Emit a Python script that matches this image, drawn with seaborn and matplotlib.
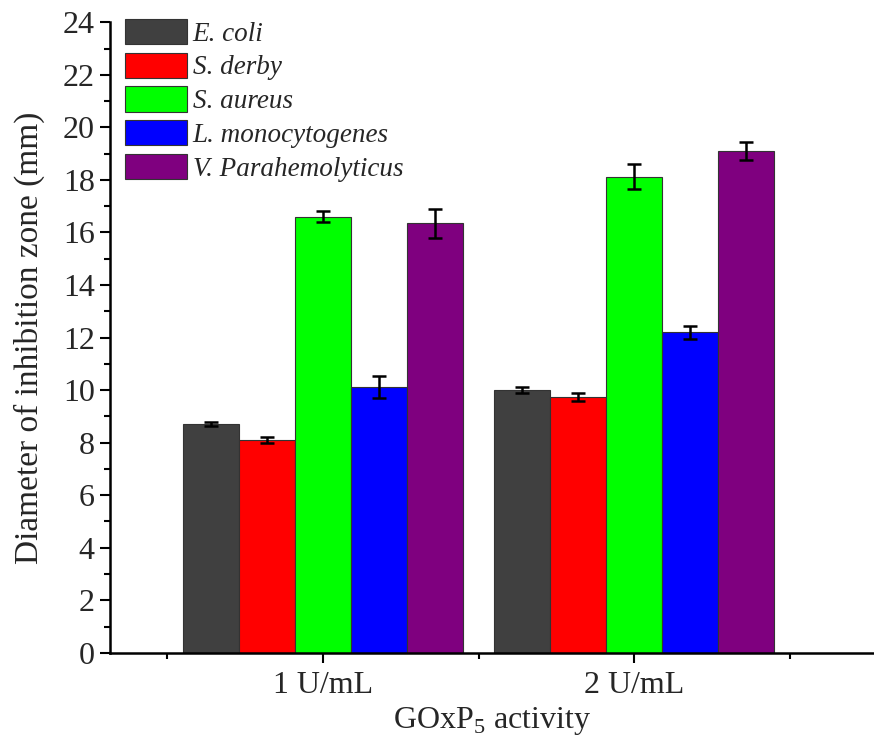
import matplotlib
matplotlib.use("Agg")
import matplotlib.pyplot as plt
import seaborn as sns
import pandas as pd
import numpy as np
from matplotlib.ticker import MultipleLocator, FixedLocator

categories = ["1 U/mL", "2 U/mL"]
species = ["E. coli", "S. derby", "S. aureus", "L. monocytogenes", "V. Parahemolyticus"]
colors = ["#404040", "#ff0000", "#00ff00", "#0000ff", "#7f007f"]
means = {
    "E. coli": [8.70, 10.00],
    "S. derby": [8.10, 9.75],
    "S. aureus": [16.60, 18.12],
    "L. monocytogenes": [10.10, 12.20],
    "V. Parahemolyticus": [16.35, 19.10],
}
errs = {
    "E. coli": [0.08, 0.12],
    "S. derby": [0.12, 0.15],
    "S. aureus": [0.22, 0.48],
    "L. monocytogenes": [0.42, 0.25],
    "V. Parahemolyticus": [0.55, 0.35],
}

rows = []
for sp in species:
    for c, m in zip(categories, means[sp]):
        rows.append({"activity": c, "species": sp, "value": m})
df = pd.DataFrame(rows)

sns.set_style("ticks")
plt.rcParams["font.family"] = ["Liberation Serif", "DejaVu Serif"]
plt.rcParams["mathtext.fontset"] = "custom"
plt.rcParams["mathtext.rm"] = "Liberation Serif"

fig = plt.figure(figsize=(8.74, 7.41), dpi=100)
ax = fig.add_axes([0.126, 0.119, 0.874, 0.851])

sns.barplot(data=df, x="activity", y="value", hue="species", order=categories,
            hue_order=species, palette=colors, width=0.9, errorbar=None,
            edgecolor="#333333", linewidth=0.8, saturation=1, ax=ax)

for sp, cont in zip(species, ax.containers):
    xs = [b.get_x() + b.get_width() / 2 for b in cont]
    hs = [b.get_height() for b in cont]
    ax.errorbar(xs, hs, yerr=errs[sp], fmt="none", ecolor="black",
                elinewidth=1.8, capsize=5, capthick=1.8, zorder=5)

ax.set_xlim(-0.683, 1.77)
ax.set_ylim(0, 24)
ax.yaxis.set_major_locator(MultipleLocator(2))
ax.yaxis.set_minor_locator(MultipleLocator(1))
ax.xaxis.set_minor_locator(FixedLocator([-0.5, 0.5, 1.5]))
ax.tick_params(axis="both", which="major", direction="out", length=7, width=1.5,
               labelsize=23, color="black")
ax.tick_params(axis="both", which="minor", direction="out", length=4, width=1.5,
               color="black")
ax.tick_params(axis="x", which="major", pad=6)
ax.tick_params(axis="y", which="major", pad=4)
for s in ["top", "right"]:
    ax.spines[s].set_visible(False)
for s in ["left", "bottom"]:
    ax.spines[s].set_linewidth(1.8)
    ax.spines[s].set_color("black")

ax.set_xlabel(r"GOxP$_{\mathregular{5}}$ activity", fontsize=23, labelpad=4)
ax.set_ylabel("Diameter of inhibition zone (mm)", fontsize=24, labelpad=13)

leg = ax.legend(loc="upper left", bbox_to_anchor=(-0.002, 1.031), frameon=False,
                prop={"style": "italic", "size": 19.5, "family": "Liberation Serif"},
                handlelength=2.3, handleheight=1.05, handletextpad=0.2,
                labelspacing=0.22, borderaxespad=0.2)

fig.savefig("out.png", dpi=100)
